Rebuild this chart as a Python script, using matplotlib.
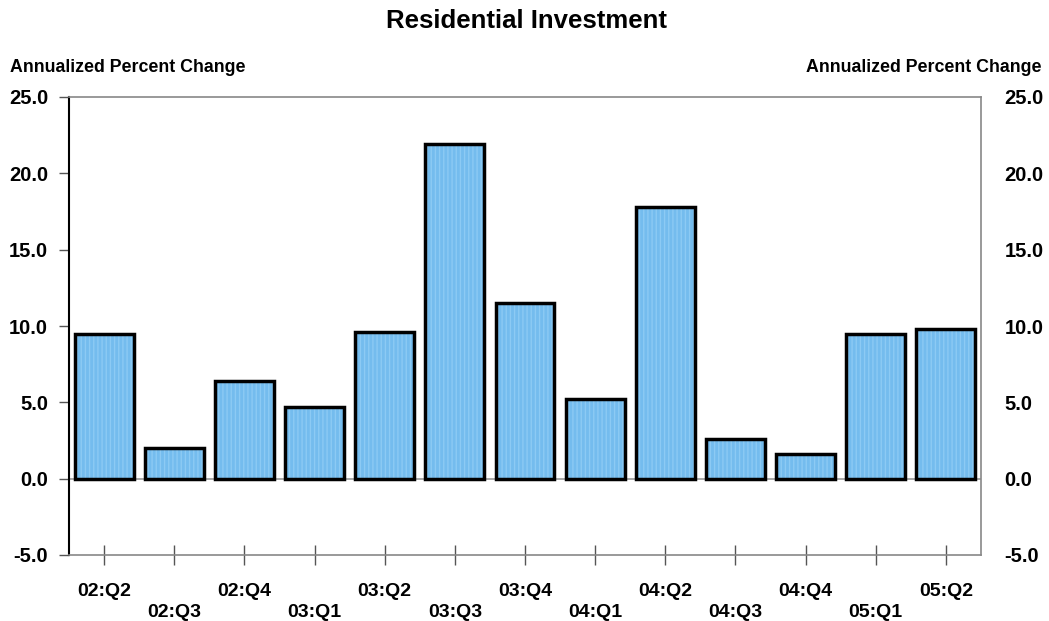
import matplotlib
matplotlib.use("Agg")
import matplotlib.pyplot as plt
import numpy as np

plt.rcParams['font.family'] = ['Liberation Sans', 'DejaVu Sans']

quarters = ["02:Q2", "02:Q3", "02:Q4", "03:Q1", "03:Q2", "03:Q3", "03:Q4",
            "04:Q1", "04:Q2", "04:Q3", "04:Q4", "05:Q1", "05:Q2"]
values = [9.5, 2.0, 6.4, 4.7, 9.6, 21.9, 11.5, 5.2, 17.8, 2.6, 1.6, 9.5, 9.8]
yticks = [-5.0, 0.0, 5.0, 10.0, 15.0, 20.0, 25.0]

fig = plt.figure(figsize=(10.49, 6.21), dpi=100)
ax = fig.add_axes([69/1049, 1-555/621, (981-69)/1049, (555-97)/621])

x = np.arange(len(values))
ax.axhline(0, color='#999999', lw=1.2, zorder=1)
ax.bar(x, values, width=0.84, color='#74BCEE', edgecolor='#8CCAF4',
       hatch='||||', linewidth=0, zorder=2)
ax.bar(x, values, width=0.84, facecolor='none', edgecolor='black',
       linewidth=2.5, zorder=3)

ax.set_xlim(-0.5, len(values) - 0.5)
ax.set_ylim(-5, 25)
ax.set_yticks(yticks)
ax.set_yticklabels([f"{v:.1f}" for v in yticks], fontsize=14.5, fontweight='bold')
ax.tick_params(axis='y', direction='out', length=7, width=1, color='#555555', pad=8)

ax.set_xticks(x)
labels = [q if i % 2 == 0 else "\n" + q for i, q in enumerate(quarters)]
ax.set_xticklabels(labels, fontsize=14, fontweight='bold', linespacing=1.35)
ax.tick_params(axis='x', direction='inout', length=14, width=1, color='#555555', pad=13)

for s in ['top', 'right', 'bottom']:
    ax.spines[s].set_color('#888888')
    ax.spines[s].set_linewidth(1.2)
ax.spines['left'].set_color('black')
ax.spines['left'].set_linewidth(1.5)

ax2 = ax.twinx()
ax2.set_ylim(-5, 25)
ax2.set_yticks(yticks)
ax2.set_yticklabels([f"{v:.1f}" for v in yticks], fontsize=14.5, fontweight='bold')
ax2.tick_params(axis='y', length=0, pad=17)
for s in ax2.spines.values():
    s.set_visible(False)

fig.text(527/1049, 1-21/621, "Residential Investment", ha='center', va='center',
         fontsize=18.5, fontweight='bold')
fig.text(10/1049, 1-68/621, "Annualized Percent Change", ha='left', va='center',
         fontsize=12.8, fontweight='bold')
fig.text(1041/1049, 1-68/621, "Annualized Percent Change", ha='right', va='center',
         fontsize=12.8, fontweight='bold')

fig.savefig("out.png", dpi=100)
